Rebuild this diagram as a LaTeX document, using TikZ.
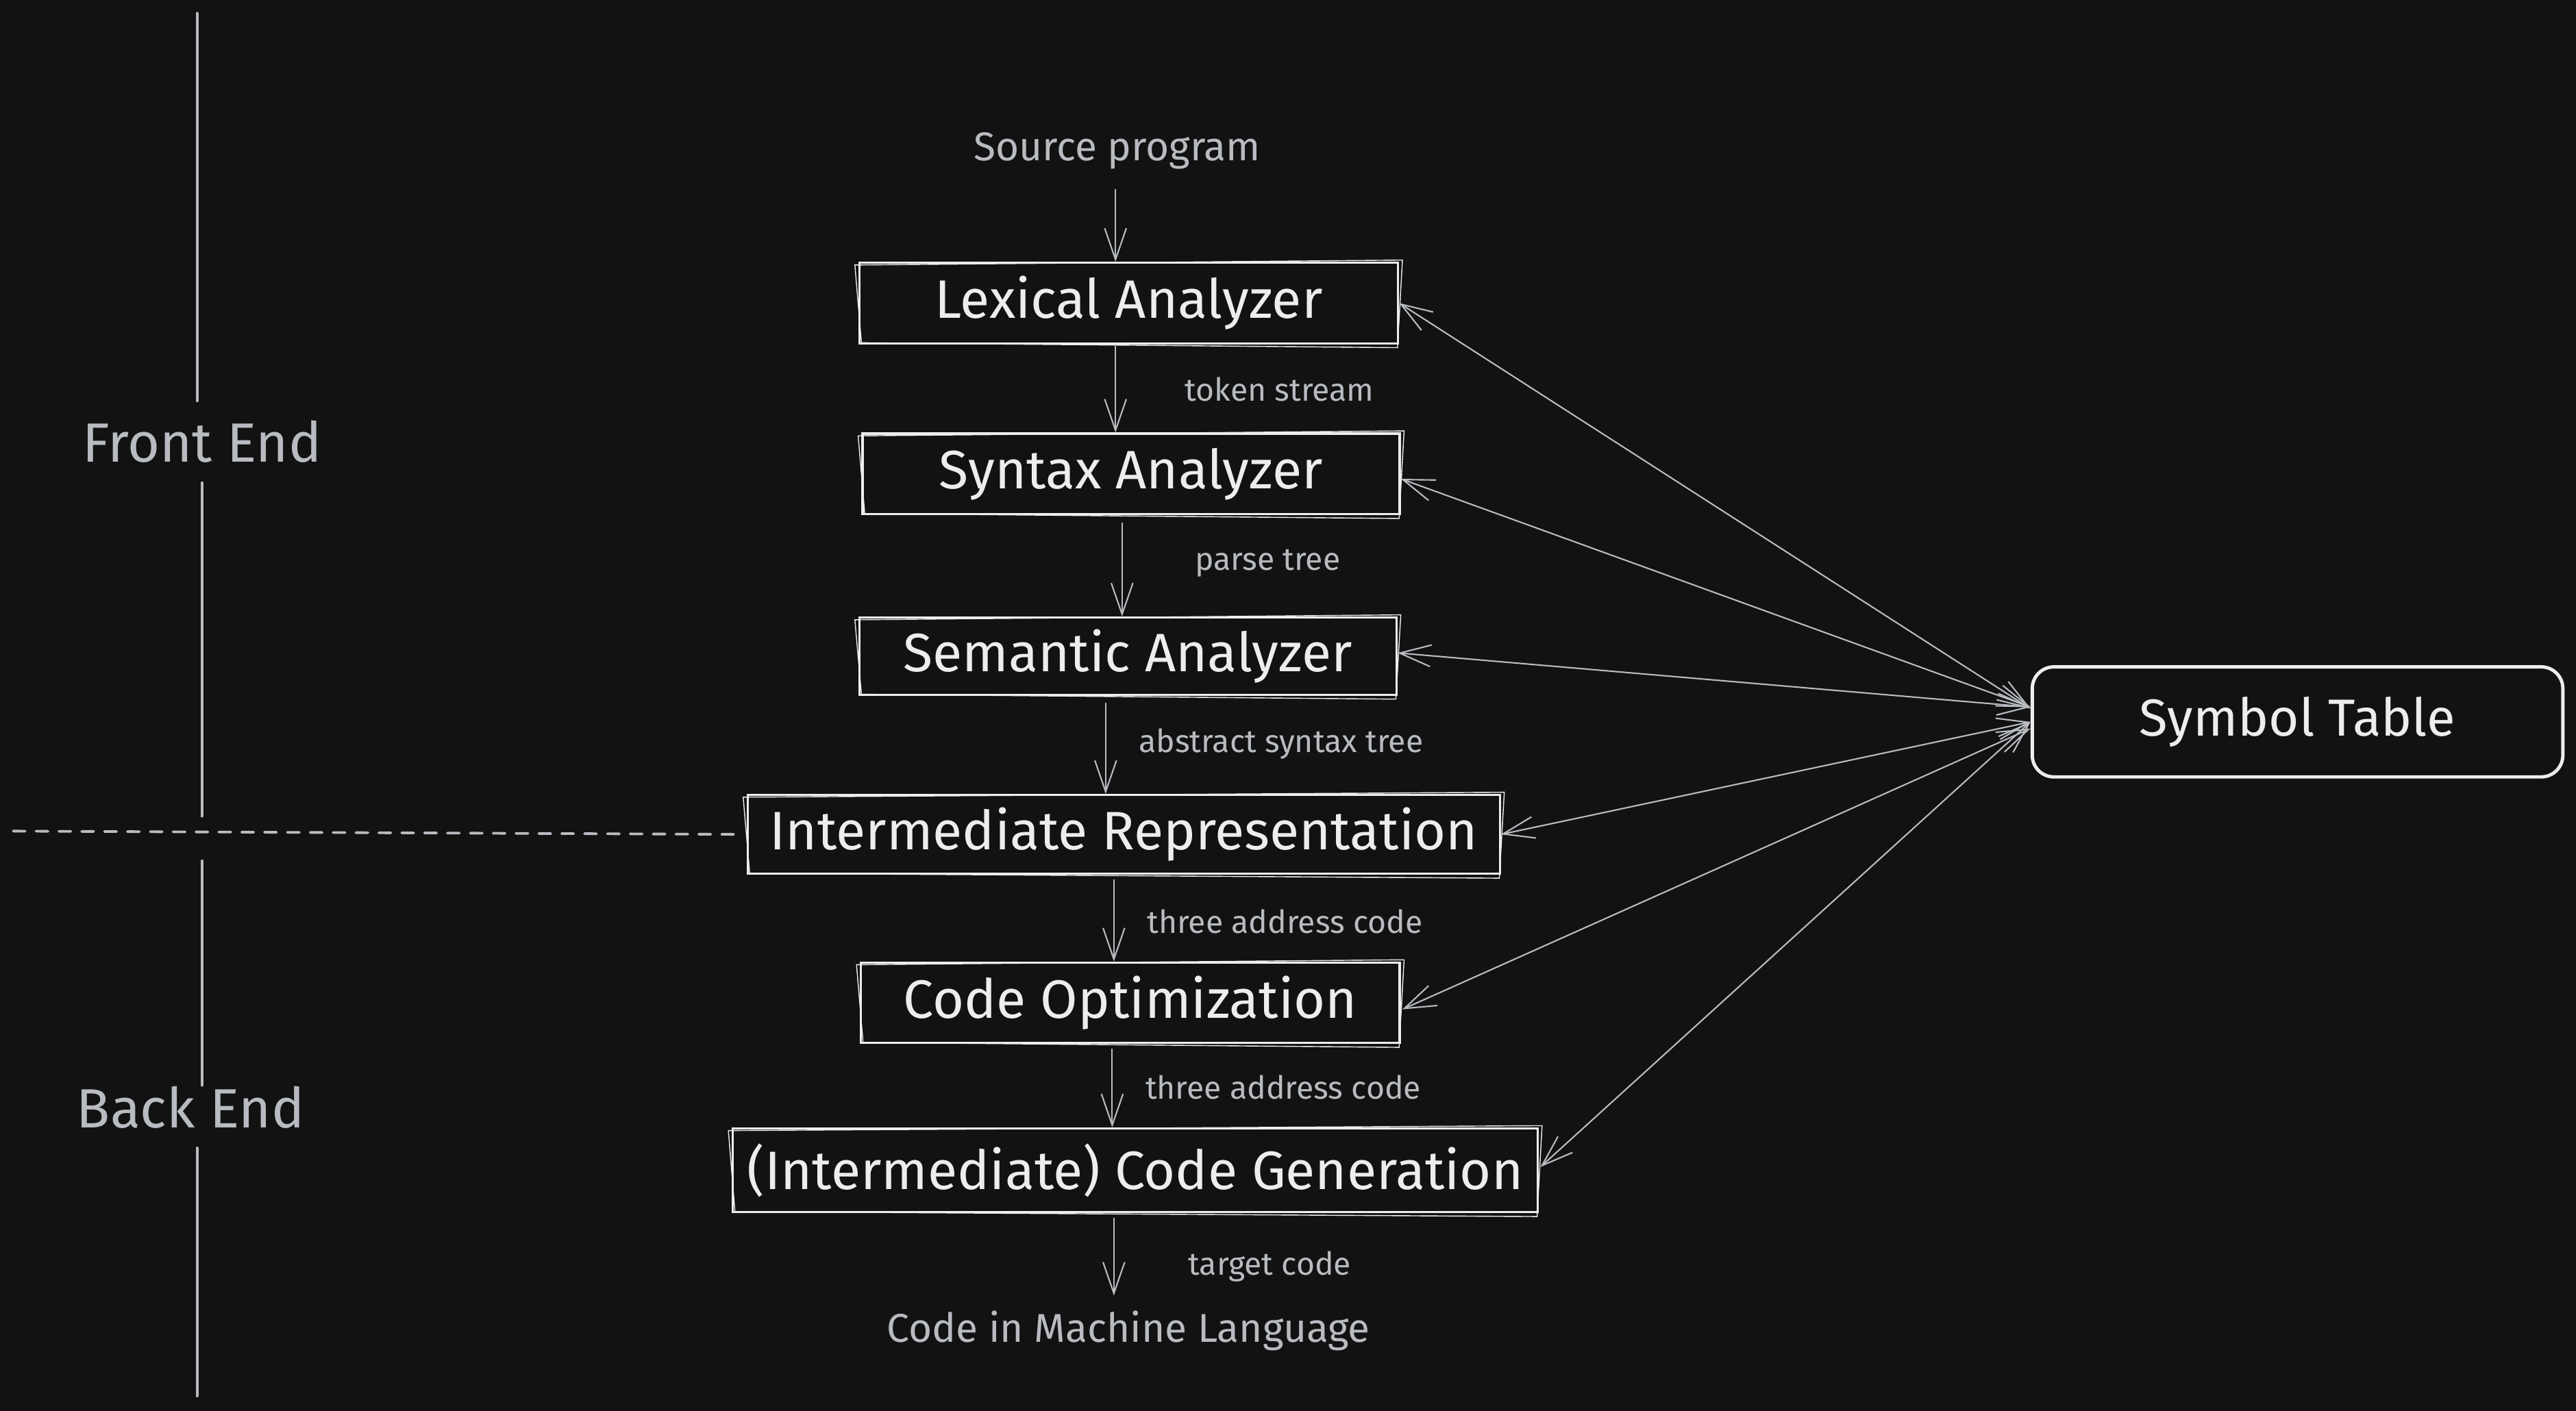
\documentclass[tikz,border=0pt]{standalone}
\usepackage{fontspec}
\setmainfont{Fira Sans}
\usetikzlibrary{arrows.meta,calc}
\definecolor{bg}{HTML}{121212}
\definecolor{ink}{HTML}{EDEDED}
\definecolor{gry}{HTML}{B8BCC1}
\begin{document}
\begin{tikzpicture}[x=0.024cm,y=-0.024cm,
  box/.style={draw=ink, line width=0.9pt, text=ink, font=\fontsize{22.5}{26}\selectfont, inner sep=0pt},
  symbox/.style={draw=ink, line width=1.4pt, rounded corners=9pt, text=ink, font=\fontsize{21.7}{26}\selectfont, inner sep=0pt},
  lbl/.style={text=gry, font=\fontsize{13.2}{15}\selectfont, anchor=west, inner sep=0pt},
  gtxt/.style={text=gry, font=\fontsize{16.7}{20}\selectfont, inner sep=0pt},
  sidetxt/.style={text=gry, font=\fontsize{23}{27}\selectfont, inner sep=0pt},
  arr/.style={draw=gry, line width=0.6pt, -{Straight Barb[length=13pt,width=9pt]}},
  biarr/.style={draw=gry, line width=0.6pt, {Straight Barb[length=13pt,width=9pt]}-{Straight Barb[length=13pt,width=9pt]}},
  side/.style={draw=gry, line width=1pt, line cap=round},
  dashline/.style={draw=gry, line width=1.1pt, line cap=round, dash pattern=on 5pt off 4.5pt},
  sk/.style={draw=ink, line width=0.4pt},
]
\fill[bg] (0,0) rectangle (1568,859);
\useasboundingbox (0,0) rectangle (1568,859);

% main column
\node[gtxt] (src) at (680,92) {Source program};
\node[box, minimum width=7.872cm, minimum height=1.176cm] (lex) at (687,184.5) {Lexical Analyzer};
\node[box, minimum width=7.848cm, minimum height=1.176cm] (syn) at (688.5,288.5) {Syntax Analyzer};
\node[box, minimum width=7.848cm, minimum height=1.128cm] (sem) at (686.5,399.5) {Semantic Analyzer};
\node[box, minimum width=10.992cm, minimum height=1.152cm] (ir) at (684,508) {Intermediate Representation};
\node[box, minimum width=7.872cm, minimum height=1.176cm] (opt) at (688,610.5) {Code Optimization};
\node[box, minimum width=11.76cm, minimum height=1.224cm] (gen) at (691,712.5) {(Intermediate) Code Generation};
\node[gtxt] (mach) at (687,810) {Code in Machine Language};
\node[symbox, minimum width=7.752cm, minimum height=1.608cm] (sym) at (1398.5,439.5) {Symbol Table};

% sketchy second strokes
\foreach \n in {lex,syn,sem,ir,opt,gen}{
  \draw[sk] ($(\n.north west)+(-2,2)$) -- ($(\n.north east)+(2,-1)$)
            -- ($(\n.south east)+(-1,2)$) -- ($(\n.south west)+(2,-1)$) -- cycle;
}

% edge labels
\node[lbl] (l1) at (721,237) {token stream};
\node[lbl] (l2) at (727,343) {parse tree};
\node[lbl] (l3) at (693,453) {abstract syntax tree};
\node[lbl] (l4) at (698,561) {three address code};
\node[lbl] (l5) at (697,662) {three address code};
\node[lbl] (l6) at (723,771) {target code};

% vertical flow arrows
\coordinate (x1) at (679,0);
\coordinate (x2) at (679,0);
\coordinate (x3) at (683,0);
\coordinate (x4) at (673,0);
\coordinate (x5) at (678,0);
\coordinate (x6) at (677,0);
\coordinate (x7) at (678,0);
\draw[arr, shorten <=8pt] (x1 |- src.south) -- (x1 |- lex.north);
\draw[arr] (x2 |- lex.south) -- (x2 |- syn.north);
\draw[arr, shorten <=3pt] (x3 |- syn.south) -- (x3 |- sem.north);
\draw[arr, shorten <=3pt] (x4 |- sem.south) -- (x4 |- ir.north);
\draw[arr, shorten <=2pt] (x5 |- ir.south) -- (x5 |- opt.north);
\draw[arr, shorten <=2pt] (x6 |- opt.south) -- (x6 |- gen.north);
\draw[arr, shorten <=2pt, shorten >=6pt] (x7 |- gen.south) -- (x7 |- mach.north);

% symbol table connectors
\draw[biarr] (lex.east) -- ($(sym.west)+(0,-8)$);
\draw[biarr] ($(syn.east)+(0,3)$) -- ($(sym.west)+(0,-9)$);
\draw[biarr] ($(sem.east)+(0,-2)$) -- ($(sym.west)+(0,-9)$);
\draw[biarr] (ir.east) -- ($(sym.west)+(0,0)$);
\draw[biarr] ($(opt.east)+(1,4)$) -- ($(sym.west)+(0,4)$);
\draw[biarr] ($(gen.east)+(1,-2)$) -- ($(sym.west)+(0,0)$);

% left side: front end / back end
\node[sidetxt] (fe) at (123,269) {Front End};
\node[sidetxt] (be) at (116,674) {Back End};
\coordinate (ltop) at (120,8);
\coordinate (m1) at (123,497);
\coordinate (m2) at (123,524);
\coordinate (lbot) at (120,850);
\coordinate (dl) at (8,506);
\draw[side, shorten >=8pt] (ltop) -- (ltop |- fe.north);
\draw[side, shorten <=8pt] (m1 |- fe.south) -- (m1);
\draw[side, shorten >=0pt] (m2) -- (m2 |- be.north);
\draw[side, shorten <=8pt] (lbot |- be.south) -- (lbot);
\draw[dashline, shorten >=4pt] (dl) -- (ir.west);
\end{tikzpicture}
\end{document}
